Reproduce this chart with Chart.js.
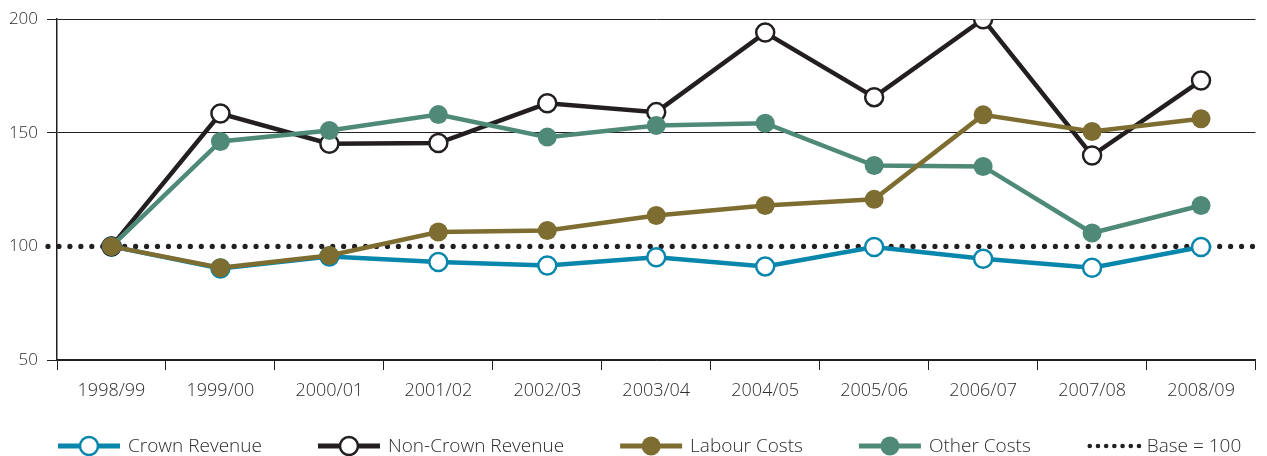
<!DOCTYPE html>
<html>
<head>
<meta charset="utf-8">
<script src="https://cdn.jsdelivr.net/npm/chart.js@4"></script>
<style>
    html, body { margin: 0; padding: 0; background: #ffffff; }
    #grafico { display: block; }
</style>
</head>
<body>
<canvas id="grafico" width="1267" height="456"></canvas>
<script>
const years = ["1998/99", "1999/00", "2000/01", "2001/02", "2002/03", "2003/04",
    "2004/05", "2005/06", "2006/07", "2007/08", "2008/09"];
const crownRevenue = [100, 90.3, 95.6, 93.1, 91.6, 95.2, 91.2, 99.7, 94.6, 90.6, 99.7];
const nonCrownRevenue = [100, 158.5, 145.2, 145.5, 163, 159.1, 194.1, 165.7, 200, 140, 173];
const labourCosts = [100, 90.6, 96, 106.3, 107, 113.6, 118, 120.7, 157.9, 150.6, 156.2];
const otherCosts = [100, 146.2, 151, 158, 148.1, 153.2, 154.2, 135.6, 135.2, 105.9, 118];
const yTicks = [50, 100, 150, 200];
const baseValue = 100;

const textColor = "#2e2c2d";
const fontFamily = "'Open Sans', 'Noto Sans', sans-serif";

const series = [
    { label: "Crown Revenue", data: crownRevenue, color: "#0986ab", open: true, order: 3 },
    { label: "Non-Crown Revenue", data: nonCrownRevenue, color: "#231f20", open: true, order: 2 },
    { label: "Labour Costs", data: labourCosts, color: "#7e6d31", open: false, order: 0 },
    { label: "Other Costs", data: otherCosts, color: "#4f8a79", open: false, order: 1 },
];

// linha pontilhada da base
const baseLinePlugin = {
    id: "baseLine",
    beforeDatasetsDraw(chart) {
        const ctx = chart.ctx;
        const y = chart.scales.y.getPixelForValue(baseValue);
        ctx.save();
        ctx.fillStyle = "#231f20";
        for (let x = chart.chartArea.left - 9; x < chart.width - 4; x += 10.95) {
            ctx.beginPath();
            ctx.arc(x, y, 2.6, 0, Math.PI * 2);
            ctx.fill();
        }
        ctx.restore();
    },
};

// legenda desenhada embaixo
const legendPlugin = {
    id: "customLegend",
    afterDraw(chart) {
        const ctx = chart.ctx;
        const y = 446;
        let x = 58;
        ctx.save();
        ctx.font = "300 19px " + fontFamily;
        ctx.textBaseline = "middle";
        series.forEach((s) => {
            ctx.strokeStyle = s.color;
            ctx.lineWidth = 5;
            ctx.beginPath();
            ctx.moveTo(x, y);
            ctx.lineTo(x + 62, y);
            ctx.stroke();
            ctx.beginPath();
            ctx.arc(x + 31, y, s.open ? 9 : 9.5, 0, Math.PI * 2);
            if (s.open) {
                ctx.fillStyle = "#ffffff";
                ctx.fill();
                ctx.lineWidth = 2.5;
                ctx.stroke();
            } else {
                ctx.fillStyle = s.color;
                ctx.fill();
            }
            ctx.fillStyle = textColor;
            ctx.fillText(s.label, x + 70, y + 1);
            x += 70 + ctx.measureText(s.label).width + 56;
        });
        // item da base
        ctx.fillStyle = "#231f20";
        for (let i = 0; i < 7; i++) {
            ctx.beginPath();
            ctx.arc(x + 3 + i * 8.2, y, 2.3, 0, Math.PI * 2);
            ctx.fill();
        }
        ctx.fillStyle = textColor;
        ctx.fillText("Base = " + baseValue, x + 60, y + 1);
        ctx.restore();
    },
};

const datasets = series.map((s) => ({
    label: s.label,
    data: s.data,
    borderColor: s.color,
    backgroundColor: s.color,
    borderWidth: 4.5,
    pointRadius: s.open ? 9 : 9.5,
    pointHoverRadius: s.open ? 9 : 9.5,
    pointBorderWidth: s.open ? 2.5 : 0,
    pointBackgroundColor: s.open ? "#ffffff" : s.color,
    pointBorderColor: s.color,
    tension: 0,
    order: s.order,
}));

new Chart(document.getElementById("grafico"), {
    type: "line",
    data: { labels: years, datasets: datasets },
    options: {
        responsive: false,
        animation: false,
        devicePixelRatio: 1,
        layout: { padding: { top: 19, right: 10, left: 0, bottom: 0 } },
        plugins: {
            legend: { display: false },
            tooltip: { enabled: false },
        },
        scales: {
            x: {
                offset: true,
                grid: {
                    offset: true,
                    drawOnChartArea: false,
                    color: "#231f20",
                    tickLength: 10,
                },
                border: { color: "#231f20", width: 1.5 },
                ticks: {
                    color: textColor,
                    font: { family: fontFamily, size: 18, weight: 300 },
                    padding: 10,
                    maxRotation: 0,
                    autoSkip: false,
                },
                afterFit(scale) { scale.height = 96; },
            },
            y: {
                min: 50,
                max: 200,
                afterBuildTicks(scale) {
                    scale.ticks = yTicks.map((v) => ({ value: v }));
                },
                grid: {
                    color: (c) => (c.tick && c.tick.value === baseValue ? "rgba(0,0,0,0)" : "#231f20"),
                    lineWidth: 1,
                    tickLength: 10,
                },
                border: { color: "#231f20", width: 1.5 },
                ticks: {
                    color: textColor,
                    font: { family: fontFamily, size: 17, weight: 300 },
                    padding: 9,
                },
                afterFit(scale) { scale.width = 57; },
            },
        },
    },
    plugins: [baseLinePlugin, legendPlugin],
});
</script>
</body>
</html>
